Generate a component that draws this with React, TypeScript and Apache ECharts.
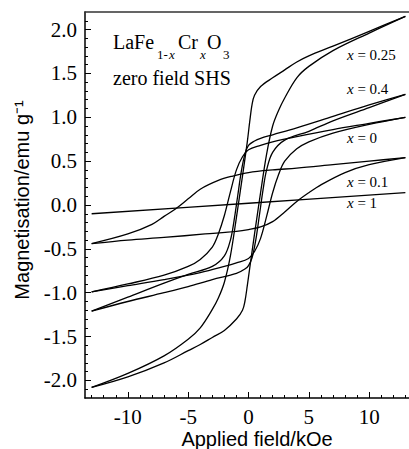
import React, { useEffect, useRef } from 'react';
import * as echarts from 'echarts';

// Tick values
const xMajorTicks = [-10, -5, 0, 5, 10];
const xMinorTicks = [-13, -12, -11, -10, -9, -8, -7, -6, -5, -4, -3, -2, -1, 0, 1, 2, 3, 4, 5, 6, 7, 8, 9, 10, 11, 12, 13];
const yMajorTicks = [-2, -1.5, -1, -0.5, 0, 0.5, 1, 1.5, 2];
const yMinorTicks = [-2.1, -2, -1.9, -1.8, -1.7, -1.6, -1.5, -1.4, -1.3, -1.2, -1.1, -1, -0.9, -0.8, -0.7, -0.6, -0.5, -0.4, -0.3, -0.2, -0.1, 0, 0.1, 0.2, 0.3, 0.4, 0.5, 0.6, 0.7, 0.8, 0.9, 1, 1.1, 1.2, 1.3, 1.4, 1.5, 1.6, 1.7, 1.8, 1.9, 2, 2.1];
const xTickLabels = ['-10', '-5', '0', '5', '10'];
const yTickLabels = ['-2.0', '-1.5', '-1.0', '-0.5', '0.0', '0.5', '1.0', '1.5', '2.0'];

// Loop x = 0.25 : [field kOe, magnetisation emu/g]
const loop025Down = [[13, 2.15], [10, 1.98], [7, 1.81], [5, 1.70], [4, 1.63], [3, 1.54], [2, 1.45], [1, 1.35], [0.5, 1.25], [0.3, 1.15], [0.1, 0.95], [-0.1, 0.72], [-0.5, 0.33], [-1, -0.14], [-1.5, -0.58], [-2, -0.88], [-2.5, -1.06], [-3, -1.19], [-4, -1.40], [-5, -1.53], [-7, -1.72], [-10, -1.92], [-13, -2.08]];
const loop025Up = [[-13, -2.08], [-10, -1.96], [-7, -1.80], [-5, -1.66], [-4, -1.59], [-3, -1.51], [-2, -1.43], [-1, -1.30], [-0.5, -1.20], [-0.3, -1.10], [-0.1, -0.92], [0.1, -0.72], [0.5, -0.33], [1, 0.14], [1.5, 0.58], [2, 0.90], [2.5, 1.08], [3, 1.22], [4, 1.45], [5, 1.58], [7, 1.76], [10, 1.96], [13, 2.15]];

// Loop x = 0.4
const loop04Down = [[13, 1.26], [10, 1.14], [7, 1.01], [4, 0.88], [2, 0.80], [1, 0.76], [0.5, 0.73], [0, 0.68], [-0.3, 0.58], [-0.6, 0.38], [-0.9, 0.1], [-1.2, -0.18], [-1.5, -0.4], [-2, -0.58], [-3, -0.70], [-5, -0.79], [-7, -0.89], [-10, -1.05], [-13, -1.21]];
const loop04Up = [[-13, -1.21], [-10, -1.10], [-7, -1.00], [-5, -0.93], [-3, -0.85], [-1, -0.78], [-0.3, -0.73], [0, -0.69], [0.3, -0.60], [0.6, -0.40], [0.9, -0.12], [1.2, 0.17], [1.5, 0.4], [2, 0.6], [3, 0.74], [5, 0.84], [7, 0.96], [10, 1.11], [13, 1.26]];

// Loop x = 0
const loop0Down = [[13, 1.0], [10, 0.93], [7, 0.86], [4, 0.78], [2, 0.72], [1, 0.68], [0, 0.63], [-0.5, 0.55], [-1, 0.40], [-1.5, 0.15], [-2, -0.12], [-2.5, -0.33], [-3, -0.48], [-4, -0.62], [-5, -0.70], [-7, -0.80], [-10, -0.90], [-13, -0.99]];
const loop0Up = [[-13, -0.99], [-10, -0.92], [-7, -0.85], [-4, -0.77], [-2, -0.70], [-1, -0.66], [0, -0.61], [0.5, -0.53], [1, -0.38], [1.5, -0.13], [2, 0.14], [2.5, 0.35], [3, 0.50], [4, 0.64], [5, 0.72], [7, 0.82], [10, 0.92], [13, 1.0]];

// Loop x = 0.1
const loop01Down = [[13, 0.54], [10, 0.50], [7, 0.46], [4, 0.42], [2, 0.40], [0, 0.37], [-1.3, 0.33], [-2.5, 0.28], [-4, 0.18], [-5, 0.07], [-6, -0.04], [-7, -0.13], [-8, -0.22], [-10, -0.33], [-13, -0.44]];
const loop01Up = [[-13, -0.44], [-10, -0.40], [-7, -0.37], [-3.6, -0.33], [-1, -0.30], [0, -0.28], [1, -0.25], [2, -0.19], [3, -0.08], [4, 0.04], [5, 0.14], [6, 0.23], [8, 0.37], [10, 0.46], [13, 0.54]];

// x = 1
const loop1 = [[-13, -0.10], [0, 0.02], [13, 0.14]];

const branches = [loop025Down, loop025Up, loop04Down, loop04Up, loop0Down, loop0Up, loop01Down, loop01Up, loop1];

const loopLabels = ['0.25', '0.4', '0', '0.1', '1'];
const labelPos = [[347, 55], [347, 89], [347, 138], [347, 182], [347, 203]];

const SERIF = 'Liberation Serif';
const SANS = 'Liberation Sans';

export default function App() {
  const ref = useRef<HTMLDivElement>(null);
  useEffect(() => {
    if (!ref.current) return;
    const chart = echarts.init(ref.current, null, { renderer: 'svg' });
    const xMin = -13.55, xMax = 13.3, yMin = -2.2, yMax = 2.2;
    const axisLine = { show: true, onZero: false, lineStyle: { color: '#000', width: 1.5 } };
    const noLine = { show: false, onZero: false };
    const staticGraphics: any[] = [
      { type: 'text', x: 22, y: 200, rotation: Math.PI / 2, style: { text: 'Magnetisation/emu g⁻¹', font: `20px ${SANS}`, fill: '#000', textAlign: 'center', textVerticalAlign: 'middle' } },
      { type: 'text', x: 257, y: 439, style: { text: 'Applied field/kOe', font: `20px ${SANS}`, fill: '#000', textAlign: 'center', textVerticalAlign: 'middle' } },
      { type: 'text', x: 113, y: 42, style: { text: 'LaFe', font: `20px ${SERIF}`, fill: '#000', textAlign: 'left', textVerticalAlign: 'middle' } },
      { type: 'text', x: 157, y: 54, style: { text: '1-', font: `13px ${SERIF}`, fill: '#000', textAlign: 'left', textVerticalAlign: 'middle' } },
      { type: 'text', x: 169, y: 54, style: { text: 'x', font: `italic 13px ${SERIF}`, fill: '#000', textAlign: 'left', textVerticalAlign: 'middle' } },
      { type: 'text', x: 178, y: 42, style: { text: 'Cr', font: `20px ${SERIF}`, fill: '#000', textAlign: 'left', textVerticalAlign: 'middle' } },
      { type: 'text', x: 200, y: 54, style: { text: 'x', font: `italic 13px ${SERIF}`, fill: '#000', textAlign: 'left', textVerticalAlign: 'middle' } },
      { type: 'text', x: 207, y: 42, style: { text: 'O', font: `20px ${SERIF}`, fill: '#000', textAlign: 'left', textVerticalAlign: 'middle' } },
      { type: 'text', x: 223, y: 54, style: { text: '3', font: `13px ${SERIF}`, fill: '#000', textAlign: 'left', textVerticalAlign: 'middle' } },
      { type: 'text', x: 113, y: 78, style: { text: 'zero field SHS', font: `20px ${SERIF}`, fill: '#000', textAlign: 'left', textVerticalAlign: 'middle' } },
      ...loopLabels.map((lab, i) => ({
        type: 'text', x: labelPos[i][0], y: labelPos[i][1],
        style: {
          text: `{i|x}{n| = ${lab}}`,
          textAlign: 'left', textVerticalAlign: 'middle',
          rich: {
            i: { fontFamily: SERIF, fontStyle: 'italic', fontSize: 15, fill: '#000' },
            n: { fontFamily: SERIF, fontSize: 15, fill: '#000' },
          },
        },
      })),
    ];
    const option: any = {
      animation: false,
      backgroundColor: '#fff',
      grid: { left: 85, top: 12, right: 0, bottom: 51, containLabel: false },
      xAxis: [
        {
          type: 'value', min: xMin, max: xMax, position: 'bottom',
          axisLine,
          axisTick: { show: true, inside: true, length: 6, customValues: xMajorTicks, lineStyle: { color: '#000', width: 1 } },
          axisLabel: { show: false },
          splitLine: { show: false },
        },
        {
          type: 'value', min: xMin, max: xMax, position: 'bottom',
          axisLine: noLine,
          axisTick: { show: true, inside: true, length: 3, customValues: xMinorTicks, lineStyle: { color: '#000', width: 1 } },
          axisLabel: { show: false },
          splitLine: { show: false },
        },
        {
          type: 'value', min: xMin, max: xMax, position: 'top',
          axisLine: { show: true, onZero: false, lineStyle: { color: '#333', width: 1.5 } },
          axisTick: { show: false },
          axisLabel: { show: false },
          splitLine: { show: false },
        },
      ],
      yAxis: [
        {
          type: 'value', min: yMin, max: yMax, position: 'left',
          axisLine,
          axisTick: { show: true, inside: true, length: 6, customValues: yMajorTicks, lineStyle: { color: '#000', width: 1 } },
          axisLabel: { show: false },
          splitLine: { show: false },
        },
        {
          type: 'value', min: yMin, max: yMax, position: 'left',
          axisLine: noLine,
          axisTick: { show: true, inside: true, length: 3, customValues: yMinorTicks, lineStyle: { color: '#000', width: 1 } },
          axisLabel: { show: false },
          splitLine: { show: false },
        },
      ],
      series: branches.map((d) => ({
        type: 'line',
        data: d,
        xAxisIndex: 0,
        yAxisIndex: 0,
        showSymbol: false,
        smooth: 0.35,
        lineStyle: { color: '#000', width: 1.3 },
        silent: true,
      })),
      graphic: staticGraphics,
    };
    chart.setOption(option);

    // tick labels positioned through the axes' own scales
    const finder = { xAxisIndex: 0, yAxisIndex: 0 };
    const tickGraphics: any[] = [];
    xMajorTicks.forEach((v, i) => {
      const p = chart.convertToPixel(finder, [v, yMin]) as number[];
      tickGraphics.push({ type: 'text', x: p[0], y: p[1] + 8, style: { text: xTickLabels[i], font: `21px ${SERIF}`, fill: '#000', textAlign: 'center', textVerticalAlign: 'top' } });
    });
    yMajorTicks.forEach((v, i) => {
      const p = chart.convertToPixel(finder, [xMin, v]) as number[];
      tickGraphics.push({ type: 'text', x: p[0] - 8, y: p[1], style: { text: yTickLabels[i], font: `21px ${SERIF}`, fill: '#000', textAlign: 'right', textVerticalAlign: 'middle' } });
    });
    chart.setOption({ graphic: [...staticGraphics, ...tickGraphics] }, { replaceMerge: ['graphic'] });

    return () => chart.dispose();
  }, []);
  return <div ref={ref} style={{ position: 'fixed', left: 0, top: 0, width: 409, height: 449, background: '#fff' }} />;
}
